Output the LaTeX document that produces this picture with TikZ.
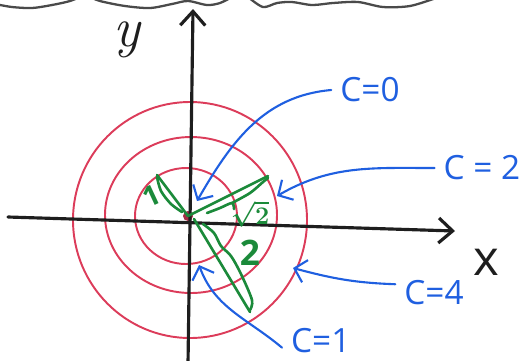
\documentclass[tikz,border=0pt]{standalone}
\usepackage{fontspec}
\setsansfont{Open Sans}
\usetikzlibrary{arrows.meta, positioning, calc}
\definecolor{axisblack}{HTML}{1E1E1E}
\definecolor{levelred}{HTML}{DC3C5A}
\definecolor{arrowblue}{HTML}{1F5FE0}
\definecolor{radgreen}{HTML}{1B8A3A}
\definecolor{edgegray}{HTML}{4A4A4A}

\begin{document}
\begin{tikzpicture}[
    x=0.02cm, y=-0.02cm,
    axis/.style={axisblack, line width=1.8pt, line cap=round,
        -{Straight Barb[length=2.8mm, width=5mm, line width=1.8pt]}},
    level/.style={levelred, line width=1.1pt},
    pointer/.style={arrowblue, line width=1.2pt, line cap=round,
        -{Straight Barb[length=2.2mm, width=4.6mm, line width=1.2pt]}},
    radline/.style={radgreen, line width=1.5pt, line cap=round, line join=round},
    clabel/.style={text=arrowblue, font=\sffamily\fontsize{19}{22}\selectfont, inner sep=5pt},
    rlabel/.style={text=radgreen, font=\sffamily\bfseries\fontsize{16}{18}\selectfont, inner sep=0pt},
]
\useasboundingbox (0,0) rectangle (521,360);

% Torn paper edge at the top
\draw[edgegray, line width=1.3pt] plot[smooth] coordinates
    {(-5,4) (12,7) (32,8) (52,5) (70,1) (82,-4)};
\draw[edgegray, line width=1.3pt] plot[smooth] coordinates
    {(88,-4) (100,1) (125,6) (150,8) (172,4) (188,1) (207,5) (220,3) (232,-3)};
\draw[edgegray, line width=1.3pt] plot[smooth] coordinates
    {(248,-3) (263,7) (277,3) (292,2) (312,5) (333,3) (358,2) (383,7) (410,6) (436,-2)};

% Level curves
\draw[level] (190,220) ellipse [x radius=117, y radius=118];
\draw[level] (191,215) ellipse [x radius=86, y radius=78];
\draw[level] (186,216) ellipse [x radius=51, y radius=48];
\coordinate (o) at (188,216);
\fill[levelred!75!black] (o) circle [radius=5];

% Axes
\coordinate (xl) at (8,217);
\coordinate (xr) at (455,231);
\coordinate (yb) at (188,364);
\coordinate (yt) at (193,9);
\draw[axis] (xl) -- (xr);
\draw[axis] (yb) -- (yt);
\node[text=axisblack, font=\itshape\fontsize{32}{34}\selectfont] (ylab) at (127,40) {y};
\node[text=axisblack, font=\sffamily\fontsize{28}{30}\selectfont] (xlab) at (486,262) {x};

% Radii r = 1, sqrt 2, 2
\coordinate (r1) at (157,175);
\coordinate (r2) at (268,176);
\coordinate (r3) at (250,312);
\draw[radline] (o) -- (r1);
\draw[radline] (o) -- (r2);
\draw[radline] ($(o)+(6,3)$) -- (r3);
\draw[radline] plot[smooth] coordinates
    {(157,177) (161,191) (171,204) (182,212)};
\draw[radline] plot[smooth] coordinates
    {(207,213) (220,208) (232,203) (234,209)};
\draw[radline] plot[smooth] coordinates
    {(232,203) (250,193) (263,182) (268,178)};
\draw[radline] plot[smooth] coordinates
    {(203,224) (214,233) (221,246) (231,256) (241,274) (252,300) (250,310)};
\node[rlabel, rotate=25] (l1) at (152,196) {1};
\node[rlabel, font=\boldmath\fontsize{15}{17}\selectfont] (l2) at (250,214) {$\sqrt{2}$};
\node[rlabel, font=\sffamily\bfseries\fontsize{20}{22}\selectfont] (l3) at (250,253) {2};

% Level labels and pointers
\node[clabel] (c0) at (370,90) {C=0};
\node[clabel] (c2) at (482,168) {C = 2};
\node[clabel] (c4) at (434,293) {C=4};
\node[clabel, anchor=south west] (c1) at (282,362) {C=1};
\coordinate (t0) at (197,201);
\coordinate (t2) at (277,196);
\coordinate (t4) at (293,268);
\coordinate (t1) at (199,265);
\draw[pointer] (c0.west) to[out=185, in=60] (t0);
\draw[pointer] (c2.west) to[out=180, in=30] (t2);
\draw[pointer] ([yshift=5pt]c4.west) to[out=178, in=-15] (t4);
\draw[pointer] ([yshift=-4pt]c1.west) to[out=140, in=-70] (t1);

\end{tikzpicture}
\end{document}
